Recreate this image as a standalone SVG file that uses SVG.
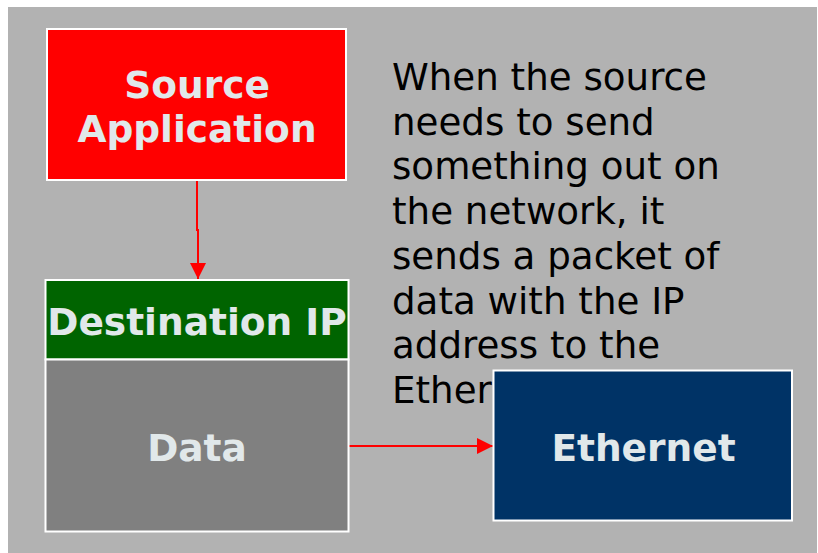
<svg xmlns="http://www.w3.org/2000/svg" width="818" height="553" viewBox="0 0 818 553">
<defs>
<style>
.box{stroke:#ffffff;stroke-width:2}
.lbl{font-family:"DejaVu Sans",sans-serif;font-weight:bold;font-size:37.5px;fill:#e1e8ea;text-anchor:middle}
.body{font-family:"DejaVu Sans",sans-serif;font-size:37.2px;fill:#000000}
.conn{stroke:#ff0000;stroke-width:2;fill:none}
</style>
<marker id="ah" viewBox="0 0 16 16" refX="16" refY="8" markerWidth="16" markerHeight="16" markerUnits="userSpaceOnUse" orient="auto">
<path d="M0,0 L16,8 L0,16 Z" fill="#ff0000"/>
</marker>
</defs>
<rect x="0" y="0" width="818" height="553" fill="#ffffff"/>
<rect x="8" y="7" width="809" height="546" fill="#b2b2b2"/>
<text class="body" x="392" y="90">When the source<tspan x="392" y="134.5">needs to send</tspan><tspan x="392" y="179">something out on</tspan><tspan x="392" y="224">the network, it</tspan><tspan x="392" y="269">sends a packet of</tspan><tspan x="392" y="313.5">data with the IP</tspan><tspan x="392" y="358">address to the</tspan><tspan x="392" y="402.5">Ethernet.</tspan></text>
<g id="connectors">
<polyline class="conn" points="197,180 197,230 198,230 198,279" marker-end="url(#ah)"/>
<line class="conn" x1="349" y1="446" x2="493" y2="446" marker-end="url(#ah)"/>
</g>
<g id="source-application">
<rect class="box" x="47" y="29" width="299" height="151" fill="#ff0000"/>
<text class="lbl" x="197" y="98">Source</text>
<text class="lbl" x="197" y="142">Application</text>
</g>
<g id="destination-ip">
<rect class="box" x="45.5" y="280" width="303" height="79.5" fill="#006400"/>
<text class="lbl" x="197" y="335">Destination IP</text>
</g>
<g id="data">
<rect class="box" x="45.5" y="359.5" width="303" height="172" fill="#808080"/>
<text class="lbl" x="197" y="461">Data</text>
</g>
<g id="ethernet">
<rect class="box" x="493.5" y="370.5" width="298.5" height="150" fill="#003366"/>
<text class="lbl" x="643.5" y="461">Ethernet</text>
</g>
</svg>
